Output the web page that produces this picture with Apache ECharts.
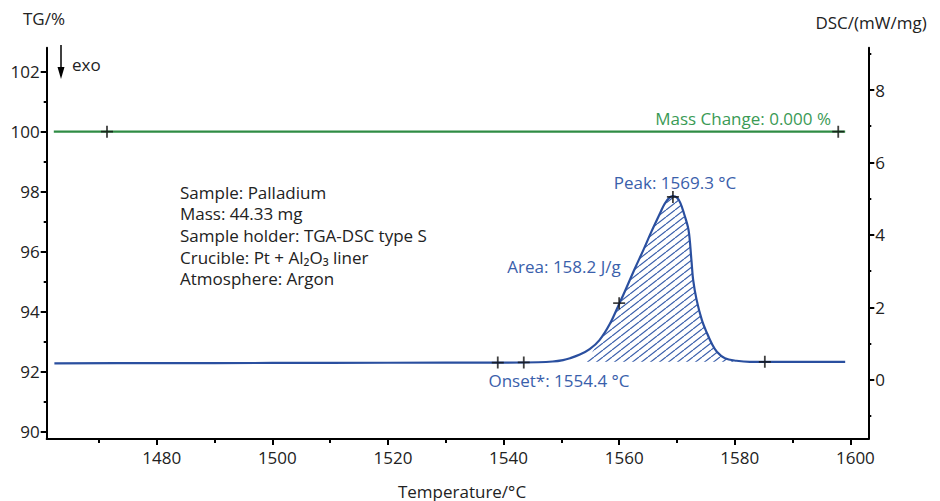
<!DOCTYPE html>
<html>
<head>
<meta charset="utf-8">
<script src="https://cdn.jsdelivr.net/npm/echarts@6/dist/echarts.min.js"></script>
<style>
html,body{margin:0;padding:0;background:#fff;}
#chart{width:940px;height:501px;}
</style>
</head>
<body>
<div id="chart"></div>
<script>
// ---- data ----
const tgTemp = [1462.2, 1599.1];
const tgValue = [100, 100];
const dscTemp = [1462.3, 1480, 1500, 1520, 1540, 1546, 1548.5, 1550.3, 1551.5, 1553.2, 1554.9, 1556.6, 1558.4, 1560.0, 1561.0, 1562.7, 1564.2, 1565.6, 1567.1, 1567.9, 1568.7, 1569.3, 1570.0, 1570.6, 1571.2, 1572.0, 1572.5, 1572.8, 1573.4, 1574.3, 1575.2, 1576.0, 1576.9, 1578.3, 1580.3, 1582.6, 1590, 1599.1];
const dscValue = [0.46, 0.465, 0.47, 0.475, 0.48, 0.49, 0.51, 0.55, 0.60, 0.70, 0.85, 1.10, 1.55, 2.10, 2.45, 3.07, 3.59, 4.10, 4.61, 4.87, 5.03, 5.07, 5.03, 4.88, 4.60, 4.14, 3.31, 2.76, 2.21, 1.66, 1.29, 1.01, 0.78, 0.60, 0.53, 0.50, 0.50, 0.50];
const dscBaseline = 0.50;
const onsetTemp = 1554.4;
const areaStart = 1555.8;
const areaEnd = 1580.3;
const tgMarkTemp = [1471.4, 1597.9];
const tgMarkValue = [100, 100];
const dscMarkTemp = [1539.0, 1543.5, 1560.0, 1569.3, 1585.2];
const dscMarkValue = [0.48, 0.485, 2.12, 5.05, 0.50];
const xMajor = [1480, 1500, 1520, 1540, 1560, 1580, 1600];
const xMinor = [1470, 1490, 1510, 1530, 1550, 1570, 1590];
const tgMajor = [90, 92, 94, 96, 98, 100, 102];
const tgMinor = [91, 93, 95, 97, 99, 101];
const dscMajor = [0, 2, 4, 6, 8];
const dscMinor = [-1, 1, 3, 5, 7, 9];
const infoLines = ['Sample: Palladium', 'Mass: 44.33 mg', 'Sample holder: TGA-DSC type S', 'Crucible: Pt + Al\u2082O\u2083 liner', 'Atmosphere: Argon'];

// ---- build ----
const FONT = '"Open Sans", "Noto Sans", "DejaVu Sans", sans-serif';
const FS = 17;
const BLUE = '#2a4f9f';
const BLUE_T = '#3a60ab';
const GREEN = '#2f8c44';
const GREEN_T = '#3a9a55';
const TXT = '#222';
const SMOOTH = 0.35;

const zip = (a, b) => a.map((v, i) => [v, b[i]]);
const dscData = zip(dscTemp, dscValue);
const hatchData = [[onsetTemp, dscBaseline]].concat(
  dscData.filter(p => p[0] >= areaStart && p[0] <= areaEnd)
);

// hatch pattern tile
const tw = 9, th = 7;
const cv = document.createElement('canvas');
cv.width = tw; cv.height = th;
const cx = cv.getContext('2d');
cx.strokeStyle = '#3a5fab';
cx.lineWidth = 1.2;
[-1, 0, 1].forEach(k => {
  cx.beginPath();
  cx.moveTo(0 + k * tw, th);
  cx.lineTo(tw + k * tw, 0);
  cx.stroke();
});
const patternURL = cv.toDataURL();

const plusPath = 'path://M5.1,0h1.8v5.1h5.1v1.8h-5.1v5.1h-1.8v-5.1h-5.1v-1.8h5.1z';

const XMIN = 1460.97, XMAX = 1603.1;
const TGMIN = 89.757, TGMAX = 102.8;
const DMIN = -1.628, DMAX = 9.167;

const axisLineStyle = {color: '#000', width: 2};
const tickStyle = {color: '#000', width: 2};
const labelStyle = {fontFamily: FONT, fontSize: FS, color: TXT, formatter: v => String(Math.round(v))};

const chart = echarts.init(document.getElementById('chart'), null, {renderer: 'svg'});
chart.setOption({
  animation: false,
  backgroundColor: '#fff',
  grid: {left: 46.7, right: 71.7, top: 47.7, bottom: 62, containLabel: false},
  xAxis: [
    {type: 'value', min: XMIN, max: XMAX, position: 'bottom',
     axisLine: {onZero: false, lineStyle: axisLineStyle},
     axisTick: {customValues: xMajor, length: 6, lineStyle: tickStyle},
     axisLabel: Object.assign({customValues: xMajor, margin: 10, padding: [0, 0, 0, 10]}, labelStyle),
     splitLine: {show: false}},
    {type: 'value', min: XMIN, max: XMAX, position: 'bottom',
     axisLine: {show: false, onZero: false},
     axisTick: {customValues: xMinor, length: 4, lineStyle: tickStyle},
     axisLabel: {show: false}, splitLine: {show: false}}
  ],
  yAxis: [
    {type: 'value', min: TGMIN, max: TGMAX, position: 'left',
     axisLine: {show: true, onZero: false, lineStyle: axisLineStyle},
     axisTick: {show: true, customValues: tgMajor, length: 6, lineStyle: tickStyle},
     axisLabel: Object.assign({customValues: tgMajor, margin: 7}, labelStyle),
     splitLine: {show: false}},
    {type: 'value', min: DMIN, max: DMAX, position: 'right',
     axisLine: {show: true, onZero: false, lineStyle: axisLineStyle},
     axisTick: {show: true, customValues: dscMajor, length: 6, lineStyle: tickStyle},
     axisLabel: Object.assign({customValues: dscMajor, margin: 7}, labelStyle),
     splitLine: {show: false}},
    {type: 'value', min: TGMIN, max: TGMAX, position: 'left',
     axisLine: {show: false, onZero: false},
     axisTick: {show: true, customValues: tgMinor, length: 3, lineStyle: tickStyle},
     axisLabel: {show: false}, splitLine: {show: false}},
    {type: 'value', min: DMIN, max: DMAX, position: 'right',
     axisLine: {show: false, onZero: false},
     axisTick: {show: true, customValues: dscMinor, length: 3, lineStyle: tickStyle},
     axisLabel: {show: false}, splitLine: {show: false}}
  ],
  series: [
    {name: 'hatch', type: 'line', yAxisIndex: 1, data: hatchData, smooth: SMOOTH,
     symbol: 'none', lineStyle: {width: 0, opacity: 0},
     areaStyle: {origin: dscBaseline, opacity: 1, color: {image: patternURL, repeat: 'repeat'}},
     silent: true, z: 1},
    {name: 'TG', type: 'line', yAxisIndex: 0, data: zip(tgTemp, tgValue), symbol: 'none',
     lineStyle: {color: GREEN, width: 2.2}, z: 3},
    {name: 'DSC', type: 'line', yAxisIndex: 1, data: dscData, smooth: SMOOTH, symbol: 'none',
     lineStyle: {color: BLUE, width: 2.2}, z: 3},
    {name: 'TG marks', type: 'scatter', yAxisIndex: 0, data: zip(tgMarkTemp, tgMarkValue),
     symbol: plusPath, symbolSize: 12, itemStyle: {color: '#111'}, z: 5},
    {name: 'DSC marks', type: 'scatter', yAxisIndex: 1, data: zip(dscMarkTemp, dscMarkValue),
     symbol: plusPath, symbolSize: 12, itemStyle: {color: '#111'}, z: 5}
  ],
  graphic: [
    {type: 'text', x: 44, y: 18, style: {text: 'TG/%', font: FS + 'px ' + FONT, fill: TXT, align: 'center', verticalAlign: 'middle'}},
    {type: 'text', x: 871, y: 22, style: {text: 'DSC/(mW/mg)', font: FS + 'px ' + FONT, fill: TXT, align: 'center', verticalAlign: 'middle'}},
    {type: 'text', x: 462, y: 491, style: {text: 'Temperature/°C', font: FS + 'px ' + FONT, fill: TXT, align: 'center', verticalAlign: 'middle'}},
    {type: 'text', x: 72, y: 64, style: {text: 'exo', font: FS + 'px ' + FONT, fill: TXT, align: 'left', verticalAlign: 'middle'}},
    {type: 'line', shape: {x1: 61, y1: 45, x2: 61, y2: 70}, style: {stroke: '#000', lineWidth: 1.5}},
    {type: 'polygon', shape: {points: [[57.5, 67], [64.5, 67], [61, 79]]}, style: {fill: '#000'}},
    {type: 'text', x: 831, y: 118, style: {text: 'Mass Change: 0.000 %', font: FS + 'px ' + FONT, fill: GREEN_T, align: 'right', verticalAlign: 'middle'}},
    {type: 'text', x: 675, y: 182, style: {text: 'Peak: 1569.3 °C', font: FS + 'px ' + FONT, fill: BLUE_T, align: 'center', verticalAlign: 'middle'}},
    {type: 'text', x: 564, y: 266.5, style: {text: 'Area: 158.2 J/g', font: FS + 'px ' + FONT, fill: BLUE_T, align: 'center', verticalAlign: 'middle'}},
    {type: 'text', x: 559, y: 380, style: {text: 'Onset*: 1554.4 °C', font: FS + 'px ' + FONT, fill: BLUE_T, align: 'center', verticalAlign: 'middle'}},
    {type: 'text', x: 180, y: 181.2, style: {
      text: infoLines.join('\n'), font: FS + 'px ' + FONT, lineHeight: 21.7,
      fill: TXT, align: 'left', verticalAlign: 'top'
    }}
  ]
});
</script>
</body>
</html>
